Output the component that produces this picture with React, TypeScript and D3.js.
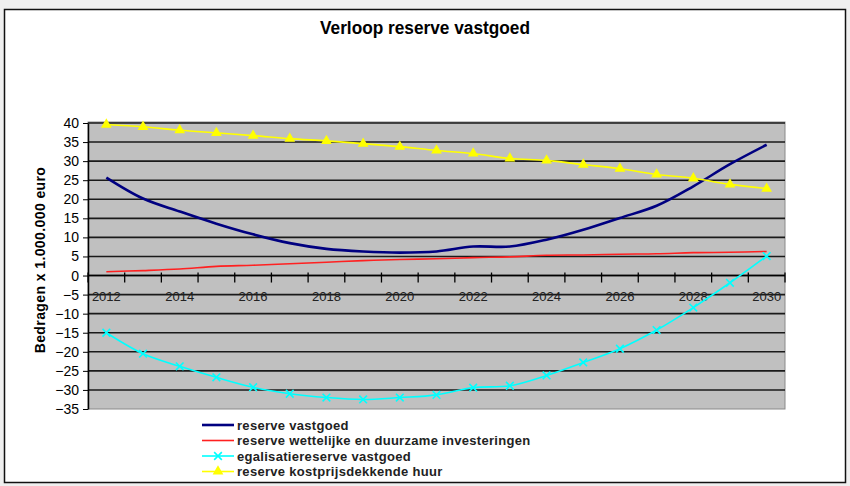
import { useEffect, useRef } from 'react';
import * as d3 from 'd3';

const years = d3.range(2012, 2031).map(String);
const tickLabels = ['2012', '2014', '2016', '2018', '2020', '2022', '2024', '2026', '2028', '2030'];
const yTicks = d3.range(-35, 41, 5);

const reserveVastgoed = [25.7, 20.2, 16.8, 13.6, 10.8, 8.5, 7.0, 6.3, 6.0, 6.3, 7.6, 7.6, 9.4, 12.0, 15.1, 18.3, 23.4, 29.2, 34.3];
const reserveWettelijk = [1.0, 1.3, 1.7, 2.4, 2.7, 3.1, 3.5, 3.9, 4.2, 4.4, 4.7, 4.9, 5.3, 5.4, 5.6, 5.7, 6.0, 6.1, 6.3];
const egalisatie = [-15.0, -20.5, -23.8, -26.7, -29.3, -31.0, -32.0, -32.5, -32.0, -31.3, -29.4, -28.9, -26.2, -22.8, -19.2, -14.3, -8.4, -1.9, 5.1];
const kostprijs = [39.6, 39.0, 38.1, 37.4, 36.7, 35.9, 35.3, 34.6, 33.8, 32.8, 32.0, 30.7, 30.2, 29.1, 28.0, 26.5, 25.5, 23.9, 22.8];

const seriesNames = [
  'reserve vastgoed',
  'reserve wettelijke en duurzame investeringen',
  'egalisatiereserve vastgoed',
  'reserve kostprijsdekkende huur',
];

function App() {
  const ref = useRef<SVGSVGElement>(null);
  const width = 850;
  const height = 486;
  const left = 88;
  const right = 785;
  const top = 123;
  const bottom = 409;

  useEffect(() => {
    const svg = d3.select(ref.current);
    svg.selectAll('*').remove();

    const x = d3.scaleBand().domain(years).range([left, right]);
    const y = d3.scaleLinear().domain([-35, 40]).range([bottom, top]);
    const cx = (d: string) => (x(d) as number) + x.bandwidth() / 2;

    svg.append('rect').attr('width', width).attr('height', height).attr('fill', '#efefef');
    svg.append('rect')
      .attr('x', 4.5).attr('y', 9.5).attr('width', 841).attr('height', 473)
      .attr('fill', '#fff').attr('stroke', '#111').attr('stroke-width', 1.5);

    svg.append('text')
      .attr('x', 425).attr('y', 34)
      .attr('text-anchor', 'middle')
      .attr('font-family', 'Liberation Sans, Arial, sans-serif')
      .attr('font-weight', 'bold')
      .attr('font-size', 18)
      .attr('textLength', 210)
      .attr('lengthAdjust', 'spacingAndGlyphs')
      .text('Verloop reserve vastgoed');

    // plot area
    svg.append('rect')
      .attr('x', left).attr('y', top - 1).attr('width', right - left).attr('height', bottom - top + 1)
      .attr('fill', '#c0c0c0').attr('stroke', '#8a8a8a').attr('stroke-width', 1);

    svg.append('g')
      .selectAll('line')
      .data(yTicks.filter((t) => t !== -35))
      .enter()
      .append('line')
      .attr('x1', left).attr('x2', right)
      .attr('y1', (d) => y(d)).attr('y2', (d) => y(d))
      .attr('stroke', '#1a1a1a').attr('stroke-width', 1.6);

    const yAxis = d3.axisLeft(y).tickValues(yTicks).tickSize(5).tickSizeOuter(0);
    const gy = svg.append('g').attr('transform', `translate(${left}, 0)`).call(yAxis);
    gy.select('.domain').attr('stroke', '#000').attr('stroke-width', 1.5);
    gy.selectAll('text')
      .attr('font-family', 'Liberation Sans, Arial, sans-serif')
      .attr('font-size', 14)
      .attr('fill', '#000')
      .attr('dx', -1);

    // x axis at zero
    const y0 = y(0);
    svg.append('line')
      .attr('x1', left).attr('x2', right).attr('y1', y0).attr('y2', y0)
      .attr('stroke', '#000').attr('stroke-width', 1.5);
    const boundaries = years.map((d) => x(d) as number).concat([right]);
    svg.append('g')
      .selectAll('line')
      .data(boundaries)
      .enter()
      .append('line')
      .attr('x1', (d) => d).attr('x2', (d) => d)
      .attr('y1', y0 - 3).attr('y2', y0 + 7)
      .attr('stroke', '#000').attr('stroke-width', 1.3);
    svg.append('g')
      .selectAll('text')
      .data(tickLabels)
      .enter()
      .append('text')
      .attr('x', (d) => cx(d))
      .attr('y', y0 + 25)
      .attr('text-anchor', 'middle')
      .attr('font-family', 'Liberation Sans, Arial, sans-serif')
      .attr('font-size', 13)
      .attr('fill', '#222')
      .text((d) => d);

    svg.append('text')
      .attr('transform', `translate(45, 260) rotate(-90)`)
      .attr('text-anchor', 'middle')
      .attr('font-family', 'Liberation Sans, Arial, sans-serif')
      .attr('font-weight', 'bold')
      .attr('font-size', 14)
      .attr('letter-spacing', 0.4)
      .text('Bedragen x 1.000.000 euro');

    const line = d3.line<number>()
      .x((_, i) => cx(years[i]))
      .y((d) => y(d))
      .curve(d3.curveCatmullRom.alpha(0.5));

    svg.append('path').datum(reserveWettelijk).attr('d', line)
      .attr('fill', 'none').attr('stroke', '#ff2020').attr('stroke-width', 1.6);
    svg.append('path').datum(reserveVastgoed).attr('d', line)
      .attr('fill', 'none').attr('stroke', '#000080').attr('stroke-width', 2.6);
    svg.append('path').datum(egalisatie).attr('d', line)
      .attr('fill', 'none').attr('stroke', '#00ffff').attr('stroke-width', 1.6);
    svg.append('path').datum(kostprijs).attr('d', line)
      .attr('fill', 'none').attr('stroke', '#ffff00').attr('stroke-width', 1.6);

    const cross = d3.symbol().type(d3.symbolX).size(40);
    svg.append('g')
      .selectAll('path')
      .data(egalisatie)
      .enter()
      .append('path')
      .attr('d', cross)
      .attr('transform', (d, i) => `translate(${cx(years[i])}, ${y(d)})`)
      .attr('fill', 'none').attr('stroke', '#00ffff').attr('stroke-width', 1.6);

    const tri = d3.symbol().type(d3.symbolTriangle).size(50);
    svg.append('g')
      .selectAll('path')
      .data(kostprijs)
      .enter()
      .append('path')
      .attr('d', tri)
      .attr('transform', (d, i) => `translate(${cx(years[i])}, ${y(d)})`)
      .attr('fill', '#ffff00');

    // legend
    const colors = ['#000080', '#ff2020', '#00ffff', '#ffff00'];
    const lg = svg.append('g').attr('transform', 'translate(202, 425)');
    seriesNames.forEach((name, i) => {
      const row = lg.append('g').attr('transform', `translate(0, ${i * 15.5})`);
      row.append('line').attr('x1', 0).attr('x2', 32).attr('y1', 0).attr('y2', 0)
        .attr('stroke', colors[i]).attr('stroke-width', i === 0 ? 2.6 : 1.6);
      if (i === 2) {
        row.append('path').attr('d', cross).attr('transform', 'translate(16, 0)')
          .attr('fill', 'none').attr('stroke', colors[i]).attr('stroke-width', 1.6);
      }
      if (i === 3) {
        row.append('path').attr('d', tri).attr('transform', 'translate(16, 0)').attr('fill', colors[i]);
      }
      row.append('text')
        .attr('x', 35).attr('y', 4.5)
        .attr('font-family', 'Liberation Sans, Arial, sans-serif')
        .attr('font-weight', 'bold')
        .attr('font-size', 13)
        .attr('letter-spacing', 0.3)
        .attr('fill', '#222')
        .text(name);
    });
  }, []);

  return (
    <svg
      ref={ref}
      width={width}
      height={height}
      style={{ position: 'absolute', left: 0, top: 0 }}
    />
  );
}

export default App;
